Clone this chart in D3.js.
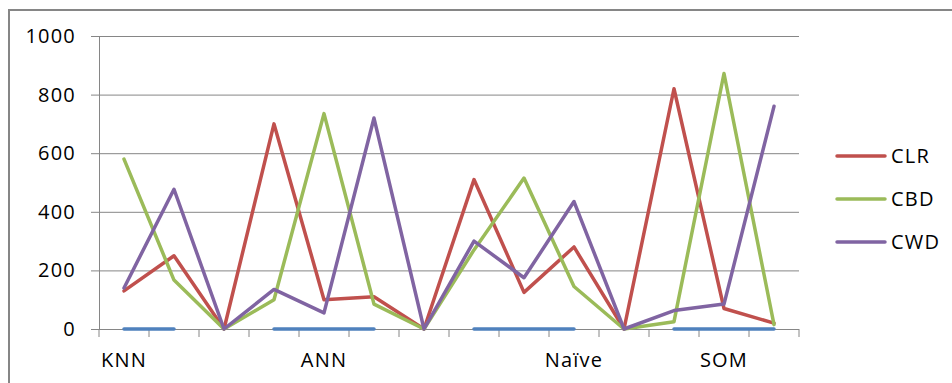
<!DOCTYPE html>
<html>
<head>
<meta charset="utf-8">
<script src="https://cdn.jsdelivr.net/npm/d3@7"></script>
<style>
  body { margin: 0; background: #fff; }
  svg text { font-family: "Open Sans", "Liberation Sans", sans-serif; fill: #000; letter-spacing: 1.2px; }
</style>
</head>
<body>
<div id="chart"></div>
<script>
// category labels (Excel only shows some of them)
const categories = ["KNN", "", "", "", "ANN", "", "", "", "", "Naïve", "", "", "SOM", ""]
const y_ticks = [0, 200, 400, 600, 800, 1000]

// series values, null = no point
const base_line = [0, 0, null, 0, 0, 0, null, 0, 0, 0, null, 0, 0, 0]
const clr = [130, 250, 0, 700, 100, 110, 0, 510, 125, 280, 0, 820, 70, 20]
const cbd = [580, 167, 0, 100, 735, 85, 0, 270, 515, 145, 0, 25, 872, 15]
const cwd = [140, 477, 0, 135, 55, 720, 0, 300, 175, 435, 0, 63, 85, 760]

const series_names = ["CLR", "CBD", "CWD"]
const series_colors = ["#C0504D", "#9BBB59", "#8064A2"]

const width = 952
const height = 383
const plot = { left: 99, right: 799, top: 36, bottom: 329 }
const font_size = 20
const grid_color = "#868686"

const svg = d3.select("#chart")
  .append("svg")
  .attr("width", width)
  .attr("height", height)

// outer chart border
svg.append("rect")
  .attr("x", 9)
  .attr("y", 10)
  .attr("width", width + 20)
  .attr("height", height + 20)
  .attr("fill", "none")
  .attr("stroke", grid_color)
  .attr("stroke-width", 2)

const x_scale = d3.scaleBand()
  .domain(d3.range(categories.length))
  .range([plot.left, plot.right])
  .padding(0)

const y_scale = d3.scaleLinear()
  .domain([0, 1000])
  .range([plot.bottom, plot.top])

// horizontal gridlines + y labels
svg.append("g")
  .attr("transform", `translate(${plot.left},0)`)
  .call(d3.axisLeft(y_scale).tickValues(y_ticks).tickFormat(d3.format("d")).tickSize(8).tickPadding(15))
  .call(g => g.select(".domain").attr("stroke", grid_color))
  .call(g => g.selectAll(".tick line").attr("stroke", grid_color))
  .call(g => g.selectAll(".tick text")
    .attr("font-size", font_size)
    .style("font-family", "'Open Sans', 'Liberation Sans', sans-serif")
    .attr("fill", "#000"))
  .call(g => g.selectAll(".tick").append("line")
    .attr("x1", 0)
    .attr("x2", plot.right - plot.left)
    .attr("stroke", grid_color))

// x axis: tick marks between categories
const x_ticks = d3.range(categories.length + 1)
  .map(i => i < categories.length ? x_scale(i) : plot.right)
const x_axis = svg.append("g").attr("class", "x_axis")
x_axis.selectAll("line.tick_mark")
  .data(x_ticks)
  .join("line")
  .attr("class", "tick_mark")
  .attr("x1", d => d)
  .attr("x2", d => d)
  .attr("y1", plot.bottom)
  .attr("y2", plot.bottom + 8)
  .attr("stroke", grid_color)
x_axis.selectAll("text")
  .data(categories.map((c, i) => ({ c, i })).filter(d => d.c !== ""))
  .join("text")
  .attr("x", d => x_scale(d.i) + x_scale.bandwidth() / 2)
  .attr("y", 367)
  .attr("text-anchor", "middle")
  .attr("font-size", font_size)
  .text(d => d.c)

const line = d3.line()
  .defined(d => d.v !== null)
  .x(d => x_scale(d.i) + x_scale.bandwidth() / 2)
  .y(d => y_scale(d.v))

const lines = svg.append("g").attr("class", "lines")
const all_series = [
  { values: base_line, color: "#4F81BD" },
  { values: clr, color: series_colors[0] },
  { values: cbd, color: series_colors[1] },
  { values: cwd, color: series_colors[2] }
]
all_series.forEach(s => {
  lines.append("path")
    .datum(s.values.map((v, i) => ({ v, i })))
    .attr("d", line)
    .attr("fill", "none")
    .attr("stroke", s.color)
    .attr("stroke-width", 3.5)
    .attr("stroke-linejoin", "round")
    .attr("stroke-linecap", "round")
})

// legend
const legend = svg.append("g").attr("class", "legend")
series_names.forEach((name, i) => {
  const y = 156 + i * 43
  legend.append("line")
    .attr("x1", 837)
    .attr("x2", 885)
    .attr("y1", y)
    .attr("y2", y)
    .attr("stroke", series_colors[i])
    .attr("stroke-width", 3.5)
    .attr("stroke-linecap", "round")
  legend.append("text")
    .attr("x", 891)
    .attr("y", y)
    .attr("dy", "0.35em")
    .attr("font-size", font_size)
    .text(name)
})
</script>
</body>
</html>
